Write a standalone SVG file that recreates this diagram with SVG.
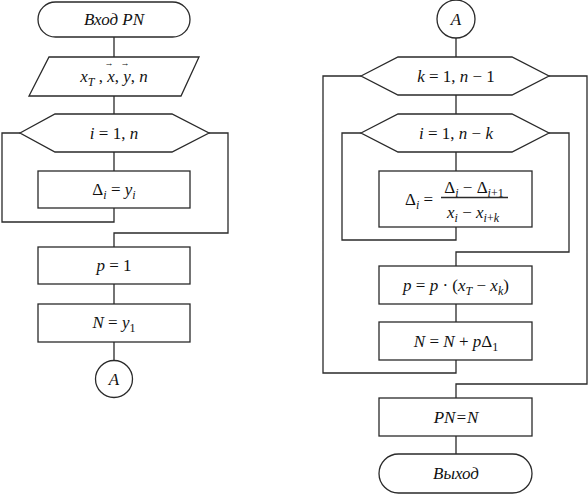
<svg xmlns="http://www.w3.org/2000/svg" width="588" height="494" viewBox="0 0 588 494">
<defs>
<marker id="none" markerWidth="1" markerHeight="1"/>
</defs>
<rect width="588" height="494" fill="#fff"/>
<g id="connectors" fill="none" stroke="#2a2a2a" stroke-width="1.3">
<path d="M114,37V57M114,96V114M114,152V171M20,133H2V222H114V208M209,133H228V233H114V247M114,284V304M114,342V361"/>
<path d="M456,38V57M456,95V114M456,152V171M361,133H342V240H456V227M549,133H569V252H456V266M456,304V322M361,76H323V373H456V360M549,76H587V384H456V398M456,436V454"/>
</g>
<g id="start">
<rect fill="#fff" stroke="#2a2a2a" stroke-width="1.3" x="38" y="2" width="152" height="35" rx="17.5"/>
<text font-family="Liberation Serif" font-size="17" text-anchor="middle" fill="#111" font-style="italic" x="114" y="25">Вход PN</text>
</g>
<g id="input">
<polygon fill="#fff" stroke="#2a2a2a" stroke-width="1.3" points="49,57 199,57 181,96 29,96"/>
<text font-family="Liberation Serif" font-size="17" text-anchor="middle" fill="#111" x="114" y="82"><tspan font-style="italic">x</tspan><tspan font-style="italic" font-size="12" dy="4">T</tspan><tspan dy="-4"> , </tspan><tspan font-style="italic">x</tspan>, <tspan font-style="italic">y</tspan>, <tspan font-style="italic">n</tspan></text>
<text font-family="Liberation Serif" font-size="9" text-anchor="middle" fill="#111" x="109" y="66">→</text>
<text font-family="Liberation Serif" font-size="9" text-anchor="middle" fill="#111" x="125" y="66">→</text>
</g>
<g id="loop-i1">
<polygon fill="#fff" stroke="#2a2a2a" stroke-width="1.3" points="20,133 55,114 172,114 209,133 172,152 55,152"/>
<text font-family="Liberation Serif" font-size="17" text-anchor="middle" fill="#111" x="114" y="139"><tspan font-style="italic">i</tspan> = 1, <tspan font-style="italic">n</tspan></text>
</g>
<g id="delta-init">
<rect fill="#fff" stroke="#2a2a2a" stroke-width="1.3" x="38" y="171" width="152" height="37"/>
<text font-family="Liberation Serif" font-size="17" text-anchor="middle" fill="#111" x="114" y="195">Δ<tspan font-style="italic" font-size="12" dy="4">i</tspan><tspan dy="-4"> = </tspan><tspan font-style="italic">y</tspan><tspan font-style="italic" font-size="12" dy="4">i</tspan></text>
</g>
<g id="p-init">
<rect fill="#fff" stroke="#2a2a2a" stroke-width="1.3" x="38" y="247" width="152" height="37"/>
<text font-family="Liberation Serif" font-size="17" text-anchor="middle" fill="#111" x="114" y="271"><tspan font-style="italic">p</tspan> = 1</text>
</g>
<g id="n-init">
<rect fill="#fff" stroke="#2a2a2a" stroke-width="1.3" x="38" y="304" width="152" height="38"/>
<text font-family="Liberation Serif" font-size="17" text-anchor="middle" fill="#111" x="114" y="328"><tspan font-style="italic">N</tspan> = <tspan font-style="italic">y</tspan><tspan font-size="12" dy="4">1</tspan></text>
</g>
<g id="conn-a-out">
<circle fill="#fff" stroke="#2a2a2a" stroke-width="1.3" cx="114" cy="379" r="18.5"/>
<text font-family="Liberation Serif" font-size="17" text-anchor="middle" fill="#111" font-style="italic" x="114" y="385">A</text>
</g>
<g id="conn-a-in">
<circle fill="#fff" stroke="#2a2a2a" stroke-width="1.3" cx="456" cy="19" r="19"/>
<text font-family="Liberation Serif" font-size="17" text-anchor="middle" fill="#111" font-style="italic" x="456" y="25">A</text>
</g>
<g id="loop-k">
<polygon fill="#fff" stroke="#2a2a2a" stroke-width="1.3" points="361,76 398,57 512,57 549,76 512,95 398,95"/>
<text font-family="Liberation Serif" font-size="17" text-anchor="middle" fill="#111" x="456" y="82"><tspan font-style="italic">k</tspan> = 1, <tspan font-style="italic">n</tspan> − 1</text>
</g>
<g id="loop-i2">
<polygon fill="#fff" stroke="#2a2a2a" stroke-width="1.3" points="361,133 398,114 512,114 549,133 512,152 398,152"/>
<text font-family="Liberation Serif" font-size="17" text-anchor="middle" fill="#111" x="456" y="139"><tspan font-style="italic">i</tspan> = 1, <tspan font-style="italic">n</tspan> − <tspan font-style="italic">k</tspan></text>
</g>
<g id="delta-calc">
<rect fill="#fff" stroke="#2a2a2a" stroke-width="1.3" x="379" y="171" width="153" height="56"/>
<text font-family="Liberation Serif" font-size="17" text-anchor="middle" fill="#111" x="419" y="205">Δ<tspan font-style="italic" font-size="12" dy="4">i</tspan><tspan dy="-4"> =</tspan></text>
<text font-family="Liberation Serif" font-size="17" text-anchor="middle" fill="#111" x="474" y="193">Δ<tspan font-style="italic" font-size="12" dy="4">i</tspan><tspan dy="-4"> − Δ</tspan><tspan font-style="italic" font-size="12" dy="4">i</tspan><tspan font-size="12">+1</tspan></text>
<line stroke="#2a2a2a" stroke-width="1.3" x1="441" y1="197.5" x2="508" y2="197.5"/>
<text font-family="Liberation Serif" font-size="17" text-anchor="middle" fill="#111" x="473" y="218"><tspan font-style="italic">x</tspan><tspan font-style="italic" font-size="12" dy="4">i</tspan><tspan dy="-4"> − </tspan><tspan font-style="italic">x</tspan><tspan font-style="italic" font-size="12" dy="4">i</tspan><tspan font-size="12">+</tspan><tspan font-style="italic" font-size="12">k</tspan></text>
</g>
<g id="p-update">
<rect fill="#fff" stroke="#2a2a2a" stroke-width="1.3" x="379" y="266" width="153" height="38"/>
<text font-family="Liberation Serif" font-size="17" text-anchor="middle" fill="#111" x="456" y="291"><tspan font-style="italic">p</tspan> = <tspan font-style="italic">p</tspan> · (<tspan font-style="italic">x</tspan><tspan font-style="italic" font-size="12" dy="4">T</tspan><tspan dy="-4"> − </tspan><tspan font-style="italic">x</tspan><tspan font-style="italic" font-size="12" dy="4">k</tspan><tspan dy="-4">)</tspan></text>
</g>
<g id="n-update">
<rect fill="#fff" stroke="#2a2a2a" stroke-width="1.3" x="379" y="322" width="153" height="38"/>
<text font-family="Liberation Serif" font-size="17" text-anchor="middle" fill="#111" x="456" y="347"><tspan font-style="italic">N</tspan> = <tspan font-style="italic">N</tspan> + <tspan font-style="italic">p</tspan>Δ<tspan font-size="12" dy="4">1</tspan></text>
</g>
<g id="result">
<rect fill="#fff" stroke="#2a2a2a" stroke-width="1.3" x="379" y="398" width="153" height="38"/>
<text font-family="Liberation Serif" font-size="17" text-anchor="middle" fill="#111" font-style="italic" x="456" y="423">PN=N</text>
</g>
<g id="end">
<rect fill="#fff" stroke="#2a2a2a" stroke-width="1.3" x="379" y="454" width="153" height="39" rx="19.5"/>
<text font-family="Liberation Serif" font-size="17" text-anchor="middle" fill="#111" font-style="italic" x="456" y="479">Выход</text>
</g>
</svg>
